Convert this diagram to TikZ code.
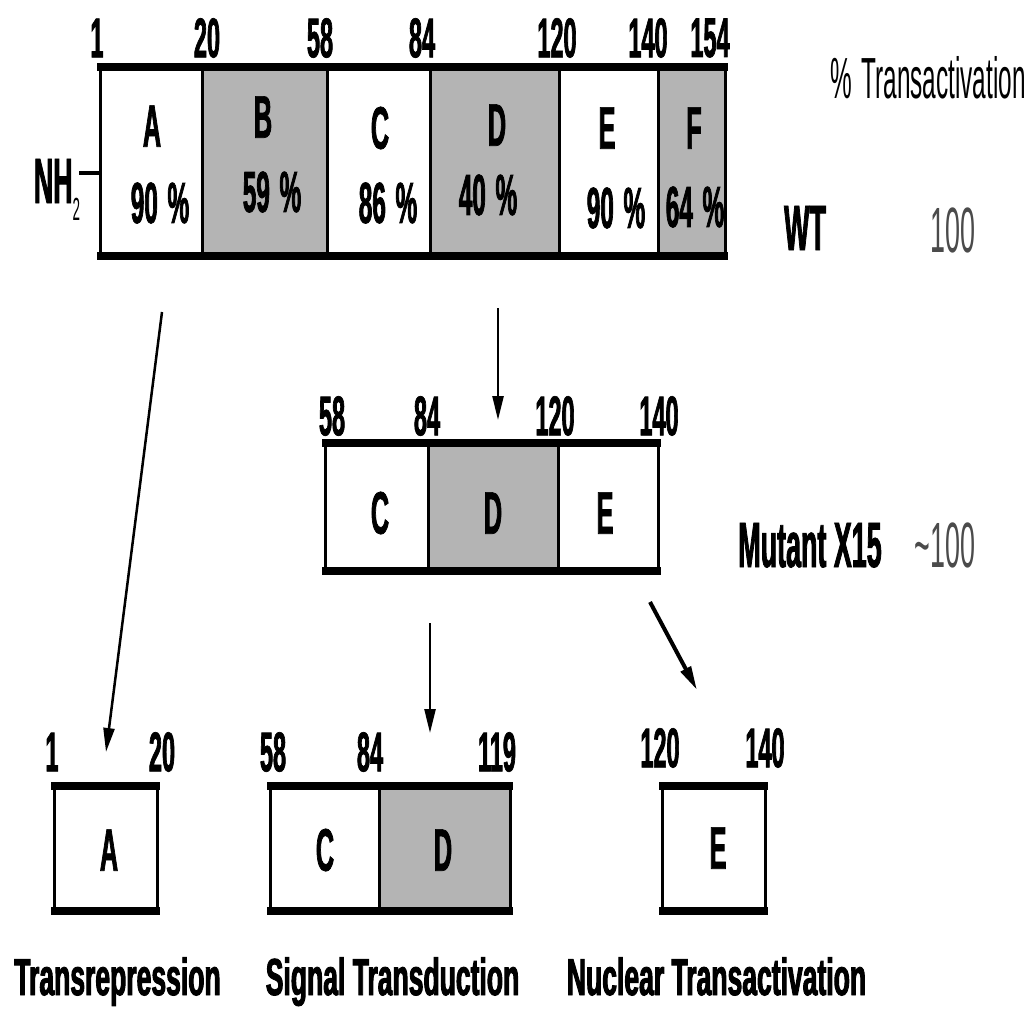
\documentclass[tikz,border=0pt]{standalone}
\usepackage{fontspec}
\usetikzlibrary{arrows.meta,fit,calc}
\newfontfamily\narrowsans{Liberation Sans}[FakeStretch=0.42, BoldFeatures={FakeBold=1.2}]
\newfontfamily\widesans{Liberation Sans}[FakeStretch=0.51, BoldFeatures={FakeBold=1.8}]
\definecolor{domaingray}{RGB}{180,180,180}
\definecolor{valuegray}{RGB}{75,75,75}

\begin{document}
\begin{tikzpicture}[x=0.5pt,y=-0.5pt,
  seg/.style={draw=black, line width=1.5pt, inner sep=0pt, fill=white},
  shaded/.style={seg, fill=domaingray},
  rim/.style={line width=4pt, line cap=butt},
  posnum/.style={font=\narrowsans\bfseries\fontsize{28}{28}\selectfont, inner sep=0pt},
  domlabel/.style={font=\narrowsans\bfseries\fontsize{30}{30}\selectfont, inner sep=0pt},
  pctlabel/.style={font=\narrowsans\bfseries\fontsize{29}{29}\selectfont, inner sep=0pt},
  rowname/.style={font=\narrowsans\bfseries\fontsize{32}{32}\selectfont, inner sep=0pt},
  rowvalue/.style={font=\narrowsans\fontsize{32}{32}\selectfont, text=valuegray, inner sep=0pt},
  funclabel/.style={font=\widesans\bfseries\fontsize{26}{26}\selectfont, inner sep=0pt, anchor=base},
  arr/.style={line width=1.25pt, -{Triangle[length=12pt,width=5.5pt]}},
]
% canvas
\fill[white] (0,0) rectangle (1031,1013);
\useasboundingbox (0,0) rectangle (1031,1013);

% ---------- wild-type protein, domains A-F ----------
\node[seg,    fit={(100,68.5) (202,254)}] (wA) {};
\node[shaded, fit={(202,68.5) (327,254)}] (wB) {};
\node[seg,    fit={(327,68.5) (430,254)}] (wC) {};
\node[shaded, fit={(430,68.5) (559,254)}] (wD) {};
\node[seg,    fit={(559,68.5) (658,254)}] (wE) {};
\node[shaded, fit={(658,68.5) (725,254)}] (wF) {};
\draw[rim] ($(wA.north west)+(-1.5,0)$) -- ($(wF.north east)+(1.5,0)$);
\draw[rim] ($(wA.south west)+(-1.5,0)$) -- ($(wF.south east)+(1.5,0)$);

\node[posnum] (w1)   at (97,38)  {1};
\node[posnum] (w20)  at (207,38) {20};
\node[posnum] (w58)  at (320,38) {58};
\node[posnum] (w84)  at (422,38) {84};
\node[posnum] (w120) at (557,38) {120};
\node[posnum] (w140) at (648,38) {140};
\node[posnum] (w154) at (710,38) {154};

\node[domlabel] (tA) at (152,126) {A};
\node[domlabel] (tB) at (263,117) {B};
\node[domlabel] (tC) at (380,128) {C};
\node[domlabel] (tD) at (497,125) {D};
\node[domlabel] (tE) at (607,128) {E};
\node[domlabel] (tF) at (694,128) {F};

\node[pctlabel] (pA) at (160,203) {90\,\%};
\node[pctlabel] (pB) at (272,192) {59\,\%};
\node[pctlabel] (pC) at (388,203) {86\,\%};
\node[pctlabel] (pD) at (488,195) {40\,\%};
\node[pctlabel] (pE) at (616,208) {90\,\%};
\node[pctlabel] (pF) at (695,207) {64\,\%};

% amino terminus
\node[rowname, anchor=base] (nh) at (57,203)
  {NH\raisebox{-8.5pt}{\narrowsans\mdseries\fontsize{16}{16}\selectfont 2}};
\coordinate (nhend) at (79,173);
\draw[line width=2.25pt] (nhend) -- (nhend -| wA.west);

% activity column
\node[font=\narrowsans\fontsize{29}{29}\selectfont, inner sep=0pt, anchor=base]
  (head) at (928,98) {\%\,Transactivation};
\node[rowname] (wt)    at (805,228) {WT};
\node[rowvalue] (wtv)  at (953,230) {100};

% ---------- mutant X15, domains C-E ----------
\node[seg,    fit={(325,444) (428,569)}] (mC) {};
\node[shaded, fit={(428,444) (558,569)}] (mD) {};
\node[seg,    fit={(558,444) (658,569)}] (mE) {};
\draw[rim] ($(mC.north west)+(-1.5,0)$) -- ($(mE.north east)+(1.5,0)$);
\draw[rim] ($(mC.south west)+(-1.5,0)$) -- ($(mE.south east)+(1.5,0)$);

\node[posnum] (m58)  at (332,416) {58};
\node[posnum] (m84)  at (427,416) {84};
\node[posnum] (m120) at (555,416) {120};
\node[posnum] (m140) at (659,416) {140};

\node[domlabel] (mtC) at (380,513) {C};
\node[domlabel] (mtD) at (493,513) {D};
\node[domlabel] (mtE) at (605,513) {E};

\node[rowname, anchor=base] (mx)  at (810,567) {Mutant X15};
\node[rowvalue, anchor=base] (mxv) at (945,567) {\textasciitilde100};

% ---------- functional fragments ----------
\node[seg, fit={(54,787) (157,909)}] (fA) {};
\draw[rim] ($(fA.north west)+(-1.5,0)$) -- ($(fA.north east)+(1.5,0)$);
\draw[rim] ($(fA.south west)+(-1.5,0)$) -- ($(fA.south east)+(1.5,0)$);
\node[posnum] (f1)  at (52,752)  {1};
\node[posnum] (f20) at (162,752) {20};
\node[domlabel] (ftA) at (109,850) {A};

\node[seg,    fit={(270,787) (379,909)}] (fC) {};
\node[shaded, fit={(379,787) (510,909)}] (fD) {};
\draw[rim] ($(fC.north west)+(-1.5,0)$) -- ($(fD.north east)+(1.5,0)$);
\draw[rim] ($(fC.south west)+(-1.5,0)$) -- ($(fD.south east)+(1.5,0)$);
\node[posnum] (f58)  at (273,752) {58};
\node[posnum] (f84)  at (370,752) {84};
\node[posnum] (f119) at (497,752) {119};
\node[domlabel] (ftC) at (325,850) {C};
\node[domlabel] (ftD) at (443,850) {D};

\node[seg, fit={(662,787) (765,909)}] (fE) {};
\draw[rim] ($(fE.north west)+(-1.5,0)$) -- ($(fE.north east)+(1.5,0)$);
\draw[rim] ($(fE.south west)+(-1.5,0)$) -- ($(fE.south east)+(1.5,0)$);
\node[posnum] (f120) at (660,748) {120};
\node[posnum] (f140) at (765,748) {140};
\node[domlabel] (ftE) at (718,848) {E};

\node[funclabel] (lrep) at (117.5,995) {Transrepression};
\node[funclabel] (lsig) at (392.5,995) {Signal Transduction};
\node[funclabel] (lnuc) at (716.5,995) {Nuclear Transactivation};

% ---------- arrows ----------
\coordinate (a1s) at (162,312); \coordinate (a1e) at (106,752);
\coordinate (a2s) at (498,308); \coordinate (a2e) at (498,420);
\coordinate (a3s) at (430,623); \coordinate (a3e) at (430,733);
\coordinate (a4s) at (650,602); \coordinate (a4e) at (697,690);
\draw[arr] (a1s) -- (a1e);
\draw[arr] (a2s) -- (a2e);
\draw[arr] (a3s) -- (a3e);
\draw[arr, line width=2pt] (a4s) -- (a4e);
\end{tikzpicture}
\end{document}
